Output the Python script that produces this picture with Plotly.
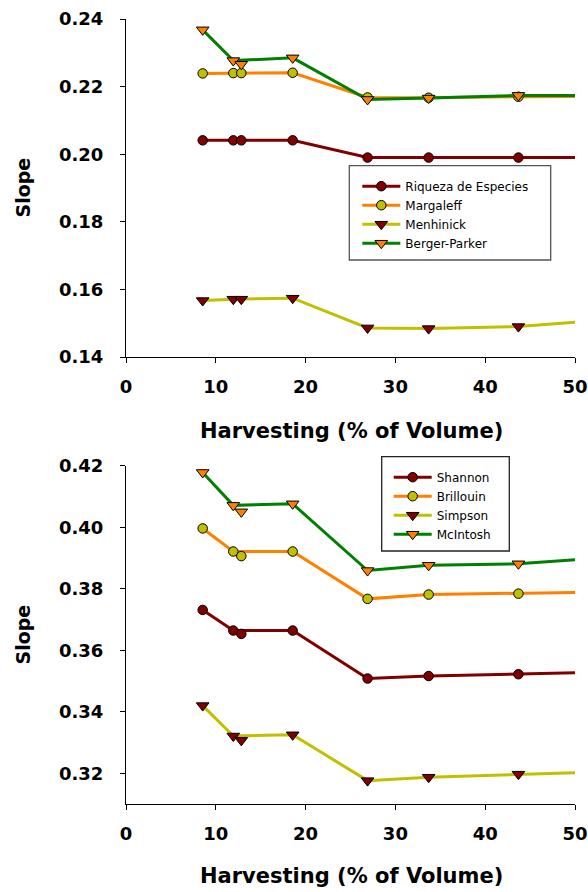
import plotly.graph_objects as go

# Harvesting (% of volume) at measured points, and line end point
harvest = [8.54, 11.95, 12.84, 18.56, 26.9, 33.7, 43.7]
harvest_end = 50

# Top panel series (marker values) + value at line end (x=50)
riqueza = [0.2041, 0.2041, 0.2041, 0.2041, 0.1990, 0.1990, 0.1990]
riqueza_end = 0.1990
margaleff = [0.2239, 0.2240, 0.2240, 0.2241, 0.2168, 0.2167, 0.2170]
margaleff_end = 0.2171
menhinick = [0.1567, 0.1571, 0.1571, 0.1574, 0.1486, 0.1484, 0.1490]
menhinick_end = 0.1503
berger = [0.2368, 0.2277, 0.2266, 0.2285, 0.2162, 0.2166, 0.2174]
berger_end = 0.2174

# Bottom panel series
shannon = [0.3731, 0.3664, 0.3653, 0.3664, 0.3508, 0.3516, 0.3522]
shannon_end = 0.3527
brillouin = [0.3996, 0.3921, 0.3906, 0.3921, 0.3767, 0.3781, 0.3784]
brillouin_end = 0.3788
simpson = [0.3420, 0.3321, 0.3307, 0.3325, 0.3176, 0.3187, 0.3197]
simpson_end = 0.3202
mcintosh = [0.4178, 0.4071, 0.4050, 0.4076, 0.3859, 0.3876, 0.3881]
mcintosh_end = 0.3894

x_ticks = [0, 10, 20, 30, 40, 50]

DARKRED = "#800000"
ORANGE = "#FF8000"
OLIVE = "#C0C000"
GREEN = "#008000"

SKIP = 2  # the 12.84 point is shown as a marker only; line bypasses it

fig = go.Figure()


def add_series(name, vals, end, line_color, fill, symbol, xa, ya, legend):
    lx = [x for i, x in enumerate(harvest) if i != SKIP] + [harvest_end]
    ly = [v for i, v in enumerate(vals) if i != SKIP] + [end]
    fig.add_trace(go.Scatter(
        x=lx, y=ly, mode="lines", xaxis=xa, yaxis=ya,
        line=dict(color=line_color, width=3), showlegend=False,
        hoverinfo="skip"))
    mx, my = [], []
    for x, v in zip(harvest, vals):
        mx += [x, None]
        my += [v, None]
    fig.add_trace(go.Scatter(
        x=mx, y=my, mode="lines+markers", name=name, xaxis=xa, yaxis=ya,
        connectgaps=False, legend=legend,
        line=dict(color=line_color, width=3),
        marker=dict(symbol=symbol, size=9.5 if symbol == "circle" else 11,
                    color=fill, line=dict(color="black", width=1))))


add_series("Riqueza de Especies", riqueza, riqueza_end, DARKRED, DARKRED, "circle", "x", "y", "legend")
add_series("Margaleff", margaleff, margaleff_end, ORANGE, OLIVE, "circle", "x", "y", "legend")
add_series("Menhinick", menhinick, menhinick_end, OLIVE, DARKRED, "triangle-down", "x", "y", "legend")
add_series("Berger-Parker", berger, berger_end, GREEN, ORANGE, "triangle-down", "x", "y", "legend")

add_series("Shannon", shannon, shannon_end, DARKRED, DARKRED, "circle", "x2", "y2", "legend2")
add_series("Brillouin", brillouin, brillouin_end, ORANGE, OLIVE, "circle", "x2", "y2", "legend2")
add_series("Simpson", simpson, simpson_end, OLIVE, DARKRED, "triangle-down", "x2", "y2", "legend2")
add_series("McIntosh", mcintosh, mcintosh_end, GREEN, ORANGE, "triangle-down", "x2", "y2", "legend2")

H = 892.0
L, R = 126, 13
PW = 588 - L - R


def px(xp):
    return (xp - L) / PW


def py(yp):
    return 1 - yp / H


tickfont = dict(family="DejaVu Sans", size=18, color="black", weight="bold")
common_x = dict(range=[0, 50], tickvals=x_ticks, showline=True, linecolor="black",
                linewidth=1, ticks="outside", ticklen=5, tickcolor="black",
                showgrid=False, zeroline=False, tickfont=tickfont,
                ticklabelstandoff=8, domain=[0, 1], automargin=False)
common_y = dict(showline=True, linecolor="black", linewidth=1, ticks="outside",
                ticklen=5, tickcolor="black", showgrid=False, zeroline=False,
                tickfont=tickfont, tickformat=".2f", ticklabelstandoff=13,
                automargin=False)

legfont = dict(family="DejaVu Sans", size=12, color="black")

# legend frames (px): left, top, right, bottom
box1 = (349.3, 165.7, 550.7, 260.0)
box2 = (381.7, 456.7, 509.3, 551.0)

fig.update_layout(
    width=588, height=892,
    margin=dict(l=L, r=R, t=0, b=0, autoexpand=False),
    paper_bgcolor="white", plot_bgcolor="white",
    xaxis=dict(**common_x, anchor="y"),
    yaxis=dict(**common_y, range=[0.14, 0.24], dtick=0.02, tick0=0.14,
               domain=[py(357), py(19)], anchor="x"),
    xaxis2=dict(**common_x, anchor="y2"),
    yaxis2=dict(**common_y, range=[0.31, 0.42], dtick=0.02, tick0=0.32,
                domain=[py(804), py(465.7)], anchor="x2"),
    legend=dict(x=px(box1[0] + 8), y=py(box1[1] + 6), xanchor="left", yanchor="top",
                bgcolor="rgba(0,0,0,0)", borderwidth=0, font=legfont,
                tracegroupgap=0, itemwidth=38),
    legend2=dict(x=px(box2[0] + 7), y=py(box2[1] + 6), xanchor="left", yanchor="top",
                 bgcolor="rgba(0,0,0,0)", borderwidth=0, font=legfont,
                 tracegroupgap=0, itemwidth=38),
    showlegend=True,
)

for b, col in ((box1, "#555555"), (box2, "#222222")):
    fig.add_shape(type="rect", xref="paper", yref="paper",
                  x0=px(b[0]), x1=px(b[2]), y0=py(b[3]), y1=py(b[1]),
                  line=dict(color=col, width=1.3), fillcolor="white", layer="above")

titlefont = dict(family="DejaVu Sans", size=21, color="black", weight="bold")
for yc in (430.7, 875.8):
    fig.add_annotation(text="Harvesting (% of Volume)", xref="paper", yref="paper",
                       x=px(351.7), y=py(yc), xanchor="center", yanchor="middle",
                       showarrow=False, font=titlefont)
for yc in (188, 635):
    fig.add_annotation(text="Slope", xref="paper", yref="paper",
                       x=px(22.5), y=py(yc), xanchor="center", yanchor="middle",
                       textangle=-90, showarrow=False,
                       font=dict(family="DejaVu Sans", size=19, color="black", weight="bold"))

fig.write_html("out.html", config={"displayModeBar": False},
               post_script="document.body.style.margin='0';")
